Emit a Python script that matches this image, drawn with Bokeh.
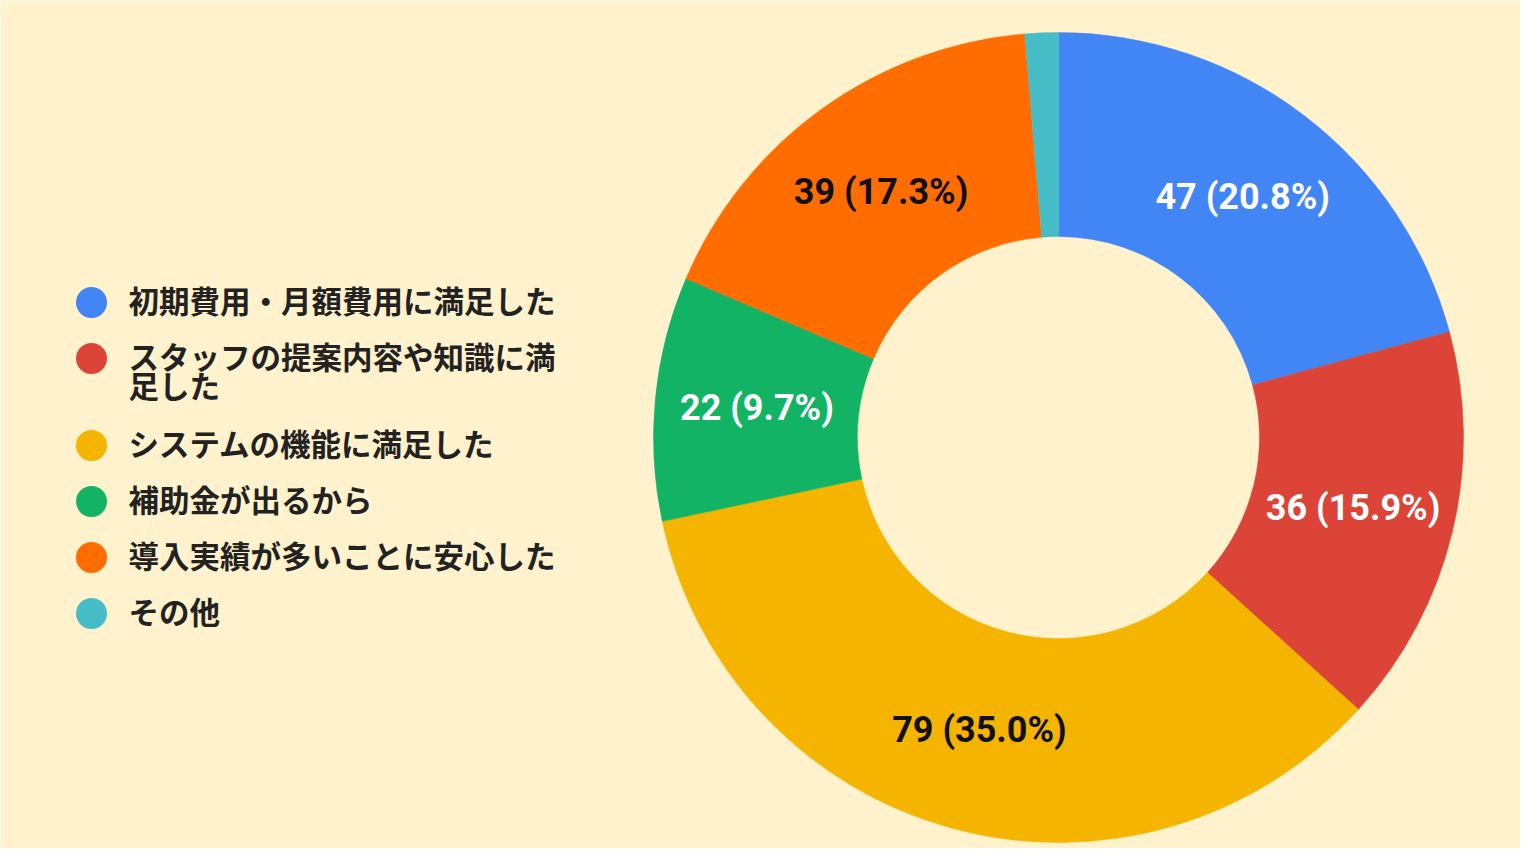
import math
from bokeh.plotting import figure
from bokeh.models import Range1d, ColumnDataSource
from bokeh.core.properties import value
from bokeh.embed import file_html
from bokeh.resources import INLINE

# ---- data ----
categories = [
    "初期費用・月額費用に満足した",
    "スタッフの提案内容や知識に満足した",
    "システムの機能に満足した",
    "補助金が出るから",
    "導入実績が多いことに安心した",
    "その他",
]
counts = [47, 36, 79, 22, 39, 3]
colors = ["#4285F4", "#DB4437", "#F4B400", "#13B365", "#FF6D01", "#46BDC6"]
label_colors = ["#FFFFFF", "#FFFFFF", "#111111", "#FFFFFF", "#111111", "#FFFFFF"]

BG = "#FFF2CC"
W, H = 1520, 848
REF_H = 864

# data coordinates = reference pixel coordinates (y flipped)
p = figure(width=W, height=H, output_backend="svg", toolbar_location=None,
           x_range=Range1d(0, W), y_range=Range1d(REF_H - H, REF_H),
           min_border=0, background_fill_color=BG, border_fill_color=BG)
p.axis.visible = False
p.grid.visible = False
p.outline_line_color = None

# donut geometry
cx, cy = 1058, REF_H - 437
r_out, r_in = 405, 201

total = sum(counts)
starts, ends, lx, ly, labels, lcols = [], [], [], [], [], []
cum = 0.0
for c, col, lc in zip(counts, colors, label_colors):
    f0 = cum / total
    cum += c
    f1 = cum / total
    a0 = math.pi / 2 - f0 * 2 * math.pi
    a1 = math.pi / 2 - f1 * 2 * math.pi
    starts.append(a0)
    ends.append(a1)
    mid = (a0 + a1) / 2
    rm = (r_out + r_in) / 2
    pct = c / total * 100
    if pct >= 5:
        lx.append(cx + rm * math.cos(mid))
        ly.append(cy + rm * math.sin(mid))
        labels.append(f"{c} ({pct:.1f}%)")
        lcols.append(lc)

src = ColumnDataSource(dict(start=starts, end=ends, color=colors))
p.annular_wedge(x=cx, y=cy, inner_radius=r_in, outer_radius=r_out,
                start_angle="start", end_angle="end", direction="clock",
                fill_color="color", line_color="color", line_width=0.5, source=src)

p.text(x=lx, y=ly, text=labels, text_color=lcols, text_font=value("Roboto"),
       text_font_style="bold", text_font_size="36px",
       text_align="center", text_baseline="middle")

# ---- legend ----
WRAP = 14
leg_x_dot, leg_x_text = 91, 128
ROW, LINE, EXTRA = 56, 29, 31
y_row = REF_H - 302
dot_x, dot_y, dot_c = [], [], []
tx, ty, tt = [], [], []
for cat, col in zip(categories, colors):
    lines = [cat[i:i + WRAP] for i in range(0, len(cat), WRAP)]
    dot_x.append(leg_x_dot)
    dot_y.append(y_row)
    dot_c.append(col)
    for k, ln in enumerate(lines):
        tx.append(leg_x_text)
        ty.append(y_row + 3 - k * LINE)
        tt.append(ln)
    y_row -= ROW + EXTRA * (len(lines) - 1)

p.scatter(x=dot_x, y=dot_y, size=31, fill_color=dot_c, line_color=None)
p.text(x=tx, y=ty, text=tt, text_color="#222222", text_font=value("Noto Sans CJK JP"),
       text_font_style="bold", text_font_size="30.5px",
       text_align="left", text_baseline="middle")

html = file_html(p, INLINE)
html = html.replace("<body>", f'<body style="background-color:{BG};">', 1)
open("out.html", "w").write(html)
